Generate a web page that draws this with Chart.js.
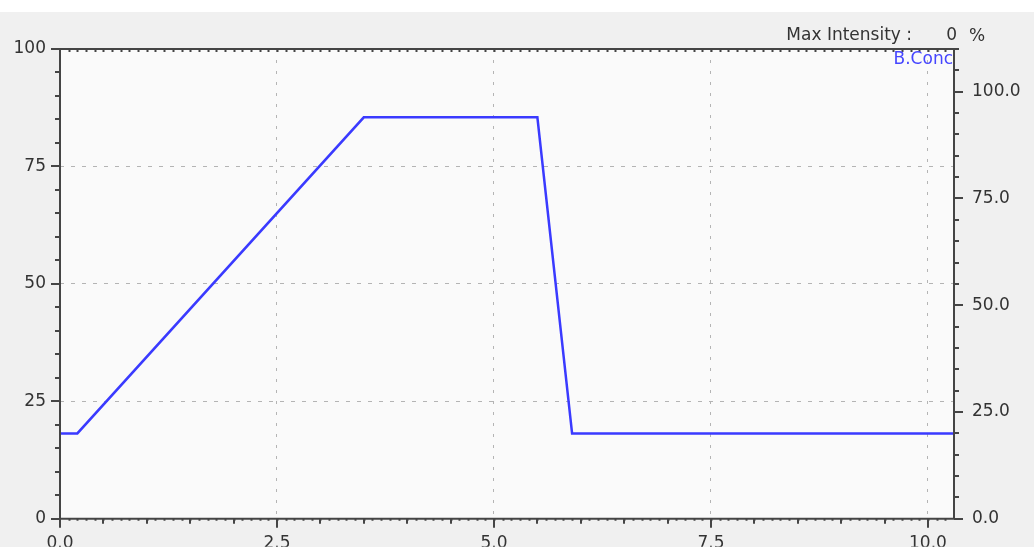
<!DOCTYPE html>
<html>
<head>
<meta charset="utf-8">
<script src="https://cdn.jsdelivr.net/npm/chart.js@4.4.1/dist/chart.umd.min.js"></script>
<style>
  html, body { margin: 0; padding: 0; background: #f0f0f0; overflow: hidden; }
  #wrap { width: 1034px; height: 547px; }
</style>
</head>
<body>
<div id="wrap"><canvas id="c" width="1034" height="547"></canvas></div>
<script>
// Gradient program: time (min) vs. B concentration (%)
const timeMin = [0, 0.2, 3.5, 5.5, 5.9, 10.3];
const bConc = [20, 20, 94, 94, 20, 20];

// Axis tick values
const xTickValues = [0, 2.5, 5, 7.5, 10];
const leftTickValues = [0, 25, 50, 75, 100];
const rightTickValues = [0, 25, 50, 75, 100];

const maxIntensity = '0';
const seriesName = 'B.Conc';

const FONT = { family: '"DejaVu Sans", Verdana, sans-serif', size: 17 };
const TEXT = '#333333';
const AXIS = '#454545';
const GRID = '#b4b4b4';

const frame = {
  id: 'frame',
  beforeDraw(chart) {
    const { ctx, chartArea: a, width, height } = chart;
    ctx.save();
    ctx.fillStyle = '#ffffff';
    ctx.fillRect(0, 0, width, 12);
    ctx.fillStyle = '#f0f0f0';
    ctx.fillRect(0, 12, width, height - 12);
    ctx.fillStyle = '#fafafa';
    ctx.fillRect(a.left, a.top, a.right - a.left, a.bottom - a.top);
    ctx.restore();
  },
  afterDatasetsDraw(chart) {
    const { ctx, chartArea: a, scales } = chart;
    const sx = scales.x, sl = scales.y, sr = scales.yR;
    ctx.save();
    ctx.strokeStyle = AXIS;
    ctx.lineWidth = 2;
    ctx.beginPath();
    ctx.rect(a.left, a.top, a.right - a.left, a.bottom - a.top);
    ctx.stroke();

    ctx.lineWidth = 2;
    ctx.beginPath();
    // fine ticks along top and bottom edges
    for (let i = 1; i * 0.1 < sx.max; i++) {
      const px = Math.round(sx.getPixelForValue(i * 0.1)) + 0.5;
      ctx.moveTo(px, a.top); ctx.lineTo(px, a.top + 3);
      ctx.moveTo(px, a.bottom); ctx.lineTo(px, a.bottom + 2);
    }
    // x minor / major ticks
    for (let i = 0; i * 0.5 <= sx.max; i++) {
      const v = i * 0.5;
      const px = Math.round(sx.getPixelForValue(v));
      const len = (i % 5 === 0) ? 9 : 5;
      ctx.moveTo(px, a.bottom); ctx.lineTo(px, a.bottom + len);
    }
    // left axis ticks
    for (let v = 0; v <= sl.max; v += 5) {
      const py = Math.round(sl.getPixelForValue(v));
      const len = (v % 25 === 0) ? 9 : 5;
      ctx.moveTo(a.left, py); ctx.lineTo(a.left - len, py);
    }
    // right axis ticks
    for (let v = 0; v <= sr.max; v += 5) {
      const py = Math.round(sr.getPixelForValue(v));
      const len = (v % 25 === 0) ? 9 : 5;
      ctx.moveTo(a.right, py); ctx.lineTo(a.right + len, py);
    }
    ctx.stroke();

    // header
    ctx.font = `${FONT.size}px ${FONT.family}`;
    ctx.fillStyle = TEXT;
    ctx.textBaseline = 'middle';
    ctx.textAlign = 'right';
    ctx.fillText('Max Intensity :', 912, 36);
    ctx.fillText(maxIntensity, 957, 36);
    ctx.textAlign = 'left';
    ctx.fillText('%', 969, 37);

    // series tag
    ctx.fillStyle = '#4646ff';
    ctx.textAlign = 'right';
    ctx.fillText(seriesName, a.right - 1, 60);
    ctx.restore();
  }
};

new Chart(document.getElementById('c'), {
  type: 'line',
  data: {
    datasets: [{
      label: seriesName,
      data: timeMin.map((t, i) => ({ x: t, y: bConc[i] })),
      yAxisID: 'yR',
      borderColor: '#3a3aff',
      borderWidth: 2.5,
      pointRadius: 0,
      tension: 0,
      fill: false
    }]
  },
  options: {
    responsive: false,
    animation: false,
    devicePixelRatio: 1,
    layout: { padding: { top: 49, left: 0, right: 0, bottom: 0 } },
    plugins: { legend: { display: false }, tooltip: { enabled: false } },
    scales: {
      x: {
        type: 'linear',
        position: 'bottom',
        min: 0,
        max: 10.3,
        afterBuildTicks: s => { s.ticks = xTickValues.map(v => ({ value: v })); },
        afterFit: s => { s.height = 28; },
        ticks: {
          callback: v => Number(v).toFixed(1),
          font: FONT, color: TEXT, padding: 15,
          maxRotation: 0, autoSkip: false
        },
        grid: {
          color: GRID,
          drawTicks: false,
          lineWidth: c => (c.tick && c.tick.value === 0) ? 0 : 1
        },
        border: { display: false, dash: [3, 8] }
      },
      y: {
        position: 'left',
        min: 0,
        max: 100,
        afterBuildTicks: s => { s.ticks = leftTickValues.map(v => ({ value: v })); },
        afterFit: s => { s.width = 60; },
        ticks: {
          callback: v => String(v),
          font: FONT, color: TEXT, padding: 14
        },
        grid: {
          color: GRID,
          drawTicks: false,
          lineWidth: c => (c.tick && (c.tick.value === 0 || c.tick.value === 100)) ? 0 : 1
        },
        border: { display: false, dash: [4, 7] }
      },
      yR: {
        position: 'right',
        min: 0,
        max: 110,
        afterBuildTicks: s => { s.ticks = rightTickValues.map(v => ({ value: v })); },
        afterFit: s => { s.width = 80; },
        ticks: {
          callback: v => Number(v).toFixed(1),
          font: FONT, color: TEXT, padding: 18
        },
        grid: { display: false, drawTicks: false },
        border: { display: false }
      }
    }
  },
  plugins: [frame]
});
</script>
</body>
</html>
